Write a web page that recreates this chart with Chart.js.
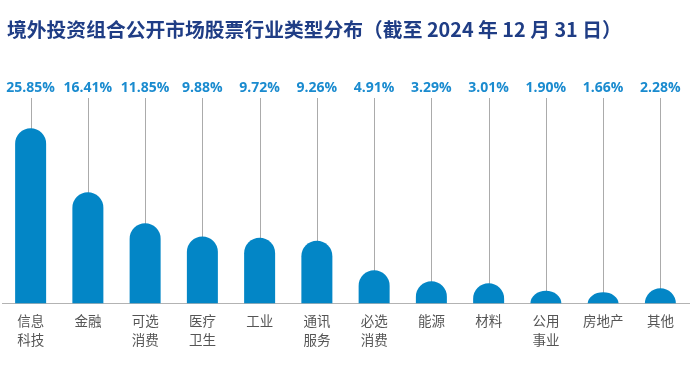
<!DOCTYPE html>
<html>
<head>
<meta charset="utf-8">
<script src="https://cdn.jsdelivr.net/npm/chart.js@4.4.1/dist/chart.umd.min.js"></script>
<style>
  html, body { margin: 0; padding: 0; background: #ffffff; }
  #wrap { width: 695px; height: 380px; position: relative; }
</style>
</head>
<body>
<div id="wrap"><canvas id="c" width="695" height="380"></canvas></div>
<script>
const titleText = '境外投资组合公开市场股票行业类型分布（截至 2024 年 12 月 31 日）';
const categories = [
  ['信息', '科技'], ['金融'], ['可选', '消费'], ['医疗', '卫生'], ['工业'], ['通讯', '服务'],
  ['必选', '消费'], ['能源'], ['材料'], ['公用', '事业'], ['房地产'], ['其他']
];
const shares = [25.85, 16.41, 11.85, 9.88, 9.72, 9.26, 4.91, 3.29, 3.01, 1.90, 1.66, 2.28];
const shareLabels = ['25.85%', '16.41%', '11.85%', '9.88%', '9.72%', '9.26%', '4.91%', '3.29%', '3.01%', '1.90%', '1.66%', '2.28%'];

const decorPlugin = {
  id: 'decor',
  afterDraw(chart) {
    const ctx = chart.ctx;
    ctx.save();
    ctx.fillStyle = '#1f3d85';
    ctx.font = 'bold 19.8px "Noto Sans CJK SC", sans-serif';
    ctx.textAlign = 'left';
    ctx.textBaseline = 'middle';
    ctx.fillText(titleText, 7, 29);
    ctx.restore();
  },
  beforeDatasetsDraw(chart) {
    const ctx = chart.ctx;
    const meta = chart.getDatasetMeta(0);
    ctx.save();
    ctx.strokeStyle = '#ababab';
    ctx.lineWidth = 1;
    meta.data.forEach((el) => {
      const x = Math.round(el.x) + 0.5;
      ctx.beginPath();
      ctx.moveTo(x, 98);
      ctx.lineTo(x, el.y + 2);
      ctx.stroke();
    });
    ctx.fillStyle = '#1a8bcf';
    ctx.font = 'bold 14px "Open Sans", sans-serif';
    ctx.textAlign = 'center';
    ctx.textBaseline = 'middle';
    meta.data.forEach((el, i) => {
      ctx.fillText(shareLabels[i], el.x, 88);
    });
    ctx.restore();
  },
  // draw each bar as a rectangle with a domed (half-ellipse) top, using the bar element geometry
  beforeDatasetDraw(chart, args) {
    const ctx = chart.ctx;
    const meta = args.meta;
    const area = chart.chartArea;
    ctx.save();
    ctx.beginPath();
    ctx.rect(area.left, area.top - 50, area.right - area.left, area.bottom - area.top + 50);
    ctx.clip();
    meta.data.forEach((el) => {
      const p = el.getProps(['x', 'y', 'base', 'width'], true);
      const half = p.width / 2;
      const h = p.base - p.y;
      const ry = Math.min(half, h);
      ctx.fillStyle = el.options.backgroundColor;
      ctx.beginPath();
      ctx.moveTo(p.x - half, p.base);
      ctx.lineTo(p.x - half, p.y + ry);
      ctx.ellipse(p.x, p.y + ry, half, ry, 0, Math.PI, 2 * Math.PI);
      ctx.lineTo(p.x + half, p.base);
      ctx.closePath();
      ctx.fill();
    });
    ctx.restore();
    return false;
  }
};

new Chart(document.getElementById('c'), {
  type: 'bar',
  data: {
    labels: categories,
    datasets: [{
      data: shares,
      backgroundColor: '#0386c6',
      borderWidth: 0,
      borderRadius: 16,
      borderSkipped: 'start',
      barThickness: 31
    }]
  },
  options: {
    responsive: false,
    animation: false,
    layout: { padding: { left: 2, right: 6, top: 100, bottom: 23 } },
    plugins: {
      legend: { display: false },
      title: { display: false },
      tooltip: { enabled: false }
    },
    scales: {
      x: {
        grid: { display: false, drawTicks: false },
        border: { display: true, color: '#b3b3b3', width: 1 },
        ticks: {
          color: '#555555',
          font: { family: '"Noto Sans CJK SC", sans-serif', size: 13.5, lineHeight: 1.385 },
          padding: 8,
          maxRotation: 0,
          autoSkip: false
        }
      },
      y: {
        display: false,
        min: 0,
        max: 30
      }
    }
  },
  plugins: [decorPlugin]
});
</script>
</body>
</html>
